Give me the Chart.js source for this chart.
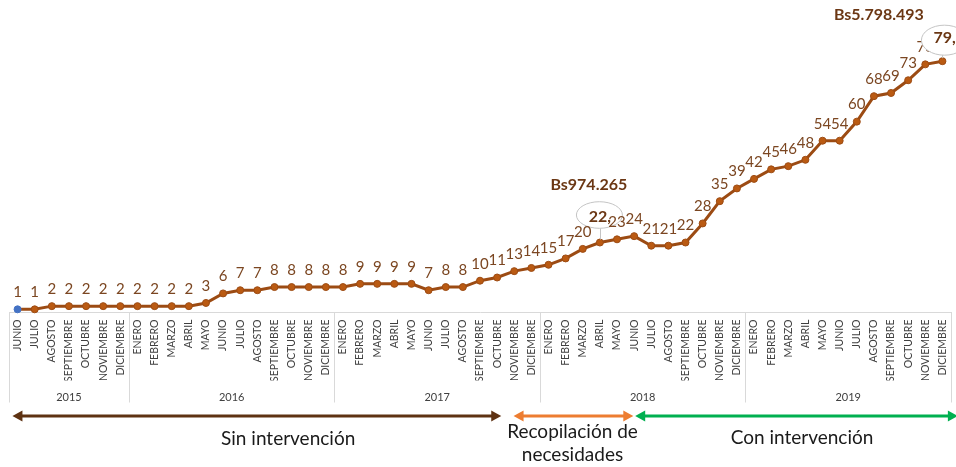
<!DOCTYPE html>
<html>
<head>
<meta charset="utf-8">
<script src="https://cdn.jsdelivr.net/npm/chart.js@4.4.1/dist/chart.umd.min.js"></script>
<style>
  html, body { margin: 0; padding: 0; background: #ffffff; }
  #wrap { width: 956px; height: 467px; }
</style>
</head>
<body>
<div id="wrap"><canvas id="c" width="956" height="467"></canvas></div>
<script>
// ---------- DATA ----------
const months2015 = ['JUNIO','JULIO','AGOSTO','SEPTIEMBRE','OCTUBRE','NOVIEMBRE','DICIEMBRE'];
const monthsFull = ['ENERO','FEBRERO','MARZO','ABRIL','MAYO','JUNIO','JULIO','AGOSTO','SEPTIEMBRE','OCTUBRE','NOVIEMBRE','DICIEMBRE'];
const yearLabels = ['2015','2016','2017','2018','2019'];

const values2015 = [1, 1, 2, 2, 2, 2, 2];
const values2016 = [2, 2, 2, 2, 3, 6, 7, 7, 8, 8, 8, 8];
const values2017 = [8, 9, 9, 9, 9, 7, 8, 8, 10, 11, 13, 14];
const values2018 = [15, 17, 20, 22, 23, 24, 21, 21, 22, 28, 35, 39];
const values2019 = [42, 45, 46, 48, 54, 54, 60, 68, 69, 73, 78, 79];

const highlightIndex = [34, 54];                 // ABRIL 2018, DICIEMBRE 2019
const highlightAmount = ['Bs974.265', 'Bs5.798.493'];

const phaseLabels = [['Sin intervención'], ['Recopilación de', 'necesidades'], ['Con intervención']];

// ---------- BUILD ----------
const monthLabels = [].concat(months2015, monthsFull, monthsFull, monthsFull, monthsFull);
const yearValues = [values2015, values2016, values2017, values2018, values2019];
const series = [].concat(...yearValues);
const yearCounts = yearValues.map(a => a.length);
const yearCenters = [];
const yearBounds = [-0.5];
{
  let start = 0;
  yearCounts.forEach(n => {
    yearCenters.push(start + (n - 1) / 2);
    start += n;
    yearBounds.push(start - 0.5);
  });
}

const LINE = '#9C4B13';
const PT = '#BA5A12';
const LBL = '#7B4621';
const BOLD = '#6B3714';
const FONT = 'Lato, "Open Sans", sans-serif';

function arrow(ctx, x1, x2, y, color) {
  const hl = 10, hw = 5.5;
  ctx.save();
  ctx.strokeStyle = color;
  ctx.fillStyle = color;
  ctx.lineWidth = 3;
  ctx.beginPath();
  ctx.moveTo(x1 + hl - 1, y);
  ctx.lineTo(x2 - hl + 1, y);
  ctx.stroke();
  ctx.beginPath();
  ctx.moveTo(x1, y); ctx.lineTo(x1 + hl, y - hw); ctx.lineTo(x1 + hl, y + hw); ctx.closePath(); ctx.fill();
  ctx.beginPath();
  ctx.moveTo(x2, y); ctx.lineTo(x2 - hl, y - hw); ctx.lineTo(x2 - hl, y + hw); ctx.closePath(); ctx.fill();
  ctx.restore();
}

const specs = [
  { ex: -0.5, ey: -27.5, rx: 23, ry: 13.3, tx: 0, ty: -26, align: 'center', bx: -11, by: -57.5 },
  { ex: 2, ey: -21, rx: 23, ry: 15, tx: -9, ty: -23.5, align: 'left', bx: -63.5, by: -46 }
];

function drawCallout(ctx, meta, k) {
  const idx = highlightIndex[k];
  const p = meta.data[idx];
  const s = specs[k];
  const cx = p.x + s.ex, cy = p.y + s.ey;
  ctx.save();
  ctx.strokeStyle = '#c4c4c4';
  ctx.lineWidth = 1;
  ctx.beginPath();
  ctx.moveTo(Math.round(p.x) + 0.5, cy + s.ry);
  ctx.lineTo(Math.round(p.x) + 0.5, p.y - 3);
  ctx.stroke();
  ctx.beginPath();
  ctx.ellipse(cx, cy, s.rx, s.ry, 0, 0, Math.PI * 2);
  ctx.fillStyle = '#ffffff';
  ctx.fill();
  ctx.stroke();
  ctx.font = 'bold 16px ' + FONT;
  ctx.fillStyle = BOLD;
  ctx.textAlign = s.align;
  ctx.textBaseline = 'middle';
  ctx.fillText(series[idx] + ',', p.x + s.tx, p.y + s.ty);
  ctx.textAlign = 'center';
  ctx.fillText(highlightAmount[k], p.x + s.bx, p.y + s.by);
  ctx.restore();
}

const decor = {
  id: 'decor',
  afterDatasetsDraw(chart) {
    const ctx = chart.ctx;
    const meta = chart.getDatasetMeta(0);
    const xs = chart.scales.x2;
    const area = chart.chartArea;

    // year separators and frame of category axis
    ctx.save();
    ctx.strokeStyle = '#d9d9d9';
    ctx.lineWidth = 1;
    yearBounds.forEach(b => {
      const px = Math.round(xs.getPixelForValue(b)) + 0.5;
      ctx.beginPath();
      ctx.moveTo(px, area.bottom);
      ctx.lineTo(px, xs.bottom);
      ctx.stroke();
    });
    ctx.restore();

    // first callout sits beneath neighbouring labels
    drawCallout(ctx, meta, 0);

    // value labels
    ctx.save();
    ctx.font = '15px ' + FONT;
    ctx.fillStyle = LBL;
    ctx.textAlign = 'center';
    ctx.textBaseline = 'middle';
    meta.data.forEach((p, i) => {
      if (highlightIndex.includes(i)) return;
      ctx.fillText(String(series[i]), p.x, p.y - 17);
    });
    ctx.restore();

    // second callout covers its neighbour
    drawCallout(ctx, meta, 1);

    // phase arrows
    const ay = 416;
    arrow(ctx, xs.getPixelForValue(-0.3), xs.getPixelForValue(28.24), ay, '#5E3212');
    arrow(ctx, xs.getPixelForValue(28.96), xs.getPixelForValue(35.95), ay, '#ED7D31');
    arrow(ctx, xs.getPixelForValue(36.06), xs.getPixelForValue(54.9), ay, '#00B050');

    ctx.save();
    ctx.font = '19px ' + FONT;
    ctx.fillStyle = '#1a1a1a';
    ctx.textAlign = 'center';
    ctx.textBaseline = 'middle';
    const phasePos = [[15.8, [439]], [32.4, [432, 455]], [45.8, [438]]];
    phaseLabels.forEach((lines, k) => {
      const px = xs.getPixelForValue(phasePos[k][0]);
      lines.forEach((t, j) => ctx.fillText(t, px, phasePos[k][1][j]));
    });
    ctx.restore();
  }
};

new Chart(document.getElementById('c'), {
  type: 'line',
  data: {
    labels: monthLabels,
    datasets: [{
      data: series,
      borderColor: LINE,
      borderWidth: 3,
      tension: 0,
      pointRadius: 3.5,
      pointBorderWidth: 1,
      pointBackgroundColor: series.map((v, i) => i === 0 ? '#4472C4' : PT),
      pointBorderColor: series.map((v, i) => i === 0 ? '#4472C4' : LINE),
      clip: false
    }]
  },
  options: {
    responsive: false,
    animation: false,
    devicePixelRatio: 1,
    layout: { padding: { top: 58, bottom: 64.5, left: 9, right: -4 } },
    plugins: { legend: { display: false }, tooltip: { enabled: false } },
    scales: {
      y: { display: false, min: 0, max: 80 },
      x: {
        type: 'category',
        offset: true,
        position: 'bottom',
        grid: { display: false, drawTicks: false },
        border: { display: true, color: '#d9d9d9', width: 1 },
        ticks: {
          autoSkip: false, maxRotation: 90, minRotation: 90, padding: 7,
          color: '#404040', font: { family: FONT, size: 10.5 }
        },
        afterFit(s) { s.height = 68; s.paddingLeft = 0; s.paddingRight = -4; }
      },
      x2: {
        type: 'linear',
        position: 'bottom',
        min: -0.5, max: 54.5,
        grid: { display: false, drawTicks: false },
        border: { display: false },
        afterBuildTicks(s) { s.ticks = yearCenters.map(v => ({ value: v })); },
        ticks: {
          autoSkip: false, maxRotation: 0, minRotation: 0, padding: 10,
          color: '#404040', font: { family: FONT, size: 11 },
          callback: (v, i) => yearLabels[i]
        },
        afterFit(s) { s.height = 22; s.paddingLeft = 0; s.paddingRight = -4; }
      }
    }
  },
  plugins: [decor]
});
</script>
</body>
</html>
